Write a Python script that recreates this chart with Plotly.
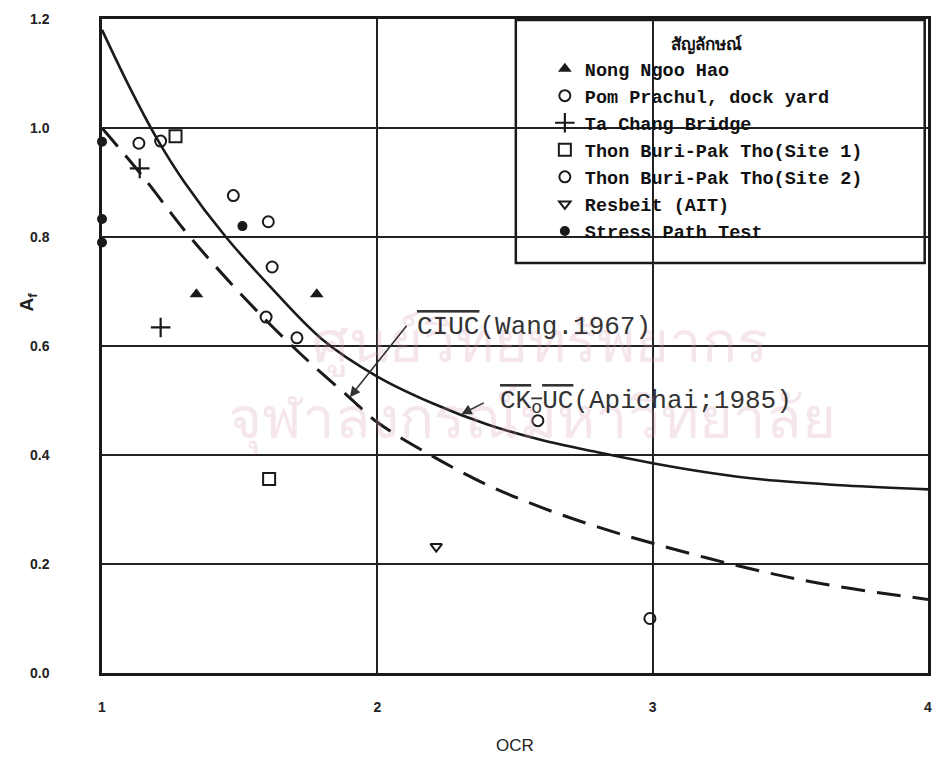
import plotly.graph_objects as go

# ---------------- data ----------------
nong_x = [1.343, 1.78]
nong_y = [0.695, 0.695]
pom_x = [1.134, 1.213, 1.477, 1.604]
pom_y = [0.972, 0.976, 0.876, 0.828]
ta_x = [1.137, 1.213]
ta_y = [0.926, 0.634]
site1_x = [1.267, 1.607]
site1_y = [0.985, 0.356]
site2_x = [1.618, 1.596, 1.708, 2.583, 2.99]
site2_y = [0.745, 0.653, 0.615, 0.463, 0.10]
res_x = [2.214]
res_y = [0.232]
sp_x = [1.0, 1.0, 1.0, 1.51]
sp_y = [0.975, 0.833, 0.79, 0.82]

ciuc_x = [1.0, 1.15, 1.3, 1.45, 1.6, 1.75, 1.9, 2.0, 2.2, 2.4, 2.6, 2.8, 3.0, 3.3, 3.6, 4.0]
ciuc_y = [1.0, 0.91, 0.812, 0.725, 0.645, 0.572, 0.505, 0.46, 0.398, 0.345, 0.303, 0.268, 0.238, 0.198, 0.165, 0.135]
ck_x = [1.0, 1.1, 1.2, 1.3, 1.45, 1.6, 1.8, 2.0, 2.2, 2.4, 2.6, 2.8, 3.0, 3.2, 3.4, 3.7, 4.0]
ck_y = [1.18, 1.075, 0.98, 0.9, 0.8, 0.715, 0.612, 0.544, 0.495, 0.456, 0.427, 0.405, 0.385, 0.368, 0.355, 0.344, 0.337]

x_ticks = [1, 2, 3, 4]
y_ticks = [0.0, 0.2, 0.4, 0.6, 0.8, 1.0, 1.2]

legend_title = "สัญลักษณ์"
names = ["Nong Ngoo Hao", "Pom Prachul, dock yard", "Ta Chang Bridge",
         "Thon Buri-Pak Tho(Site 1)", "Thon Buri-Pak Tho(Site 2)",
         "Resbeit (AIT)", "Stress Path Test"]

INK = "#1a1a1a"
fig = go.Figure()

# curves
fig.add_trace(go.Scatter(x=ck_x, y=ck_y, mode="lines", line=dict(color=INK, width=2.6, shape="spline"),
                         showlegend=False, hoverinfo="skip"))
fig.add_trace(go.Scatter(x=ciuc_x, y=ciuc_y, mode="lines",
                         line=dict(color=INK, width=3, shape="spline", dash="24px,12px"),
                         showlegend=False, hoverinfo="skip"))

series = [
    (nong_x, nong_y, dict(symbol="triangle-up", size=12, color=INK)),
    (pom_x, pom_y, dict(symbol="circle-open", size=11, color=INK, line=dict(width=2, color=INK))),
    (ta_x, ta_y, dict(symbol="cross-thin-open", size=14, color=INK, line=dict(width=2.2, color=INK))),
    (site1_x, site1_y, dict(symbol="square-open", size=12, color=INK, line=dict(width=2, color=INK))),
    (site2_x, site2_y, dict(symbol="circle-open", size=11, color=INK, line=dict(width=2, color=INK))),
    (res_x, res_y, dict(symbol="triangle-down-open", size=10, color=INK, line=dict(width=2, color=INK))),
    (sp_x, sp_y, dict(symbol="circle", size=10, color=INK)),
]
for i, (xs, ys, mk) in enumerate(series):
    fig.add_trace(go.Scatter(x=xs, y=ys, mode="markers", name=names[i], marker=mk,
                             cliponaxis=False))

axis_common = dict(showgrid=True, gridcolor="#222", gridwidth=1.5, showline=True, linecolor=INK,
                   linewidth=2.5, mirror=True, zeroline=False, ticks="",
                   tickfont=dict(family="Liberation Sans", size=14, color="#222", weight="bold"))

fig.update_layout(
    width=937, height=763,
    margin=dict(l=102, r=5, t=19, b=90),
    paper_bgcolor="white", plot_bgcolor="white",
    xaxis=dict(range=[1, 4], tickvals=x_ticks, ticktext=[str(v) for v in x_ticks],
               ticklabelstandoff=19,
               title=dict(text="OCR", font=dict(family="Liberation Sans", size=17, color="#222"), standoff=26),
               **axis_common),
    yaxis=dict(range=[0, 1.2], tickvals=y_ticks, ticktext=[f"{v:.1f}" for v in y_ticks],
               ticklabelstandoff=47, **axis_common),
    legend=dict(x=(547 - 102) / 830, xanchor="left", y=1 - (28 - 19) / 654, yanchor="top",
                bgcolor="rgba(0,0,0,0)", borderwidth=0,
                font=dict(family="Liberation Mono", size=18.5, color="#111", weight="bold"),
                title=dict(text=legend_title, side="top center",
                           font=dict(family="Liberation Sans", size=17, color="#111", weight="bold"))),
    showlegend=True,
)

# legend frame (white box that hides gridlines behind it)
fig.add_shape(type="rect", xref="paper", yref="paper", x0=0.501, x1=0.996, y0=0.627, y1=0.9985,
              line=dict(color=INK, width=2.5), fillcolor="white", layer="between")

# watermark (library stamp of the scanned page)
fig.add_annotation(text="ศูนย์วิทยทรัพยากร", xref="paper", yref="paper", x=0.53, y=0.51,
                   showarrow=False, font=dict(size=58, color="rgba(215,150,185,0.25)"))
fig.add_annotation(text="จุฬาลงกรณ์มหาวิทยาลัย", xref="paper", yref="paper", x=0.52, y=0.33,
                   showarrow=False, font=dict(size=58, color="rgba(215,150,185,0.25)"))

# y-axis title
fig.add_annotation(text="<b>A<sub>f</sub></b>", xref="paper", yref="y", x=0, y=0.68, xshift=-88,
                   showarrow=False, textangle=-90, font=dict(family="Liberation Sans", size=19, color="#222"))

# curve labels
lab_font = dict(family="Liberation Mono", size=26, color="#333")
fig.add_annotation(text='<span style="text-decoration:overline">CIUC</span>(Wang.1967)',
                   x=2.138, y=0.635, xanchor="left", yanchor="middle", showarrow=False, font=lab_font)
fig.add_annotation(text='<span style="text-decoration:overline">CK<sub>o</sub>UC</span>(Apichai;1985)',
                   x=2.438, y=0.497, xanchor="left", yanchor="middle", showarrow=False, font=lab_font)

# arrows to curves
fig.add_annotation(x=1.90, y=0.506, ax=58, ay=-73, text="", showarrow=True, arrowhead=2,
                   arrowsize=1.3, arrowwidth=1.6, arrowcolor="#333")
fig.add_annotation(x=2.305, y=0.475, ax=24, ay=-12, text="", showarrow=True, arrowhead=2,
                   arrowsize=1.3, arrowwidth=1.6, arrowcolor="#333")

fig.write_html("out.html", config={"displayModeBar": False},
               post_script="document.body.style.margin='0';document.body.style.overflow='hidden';")
